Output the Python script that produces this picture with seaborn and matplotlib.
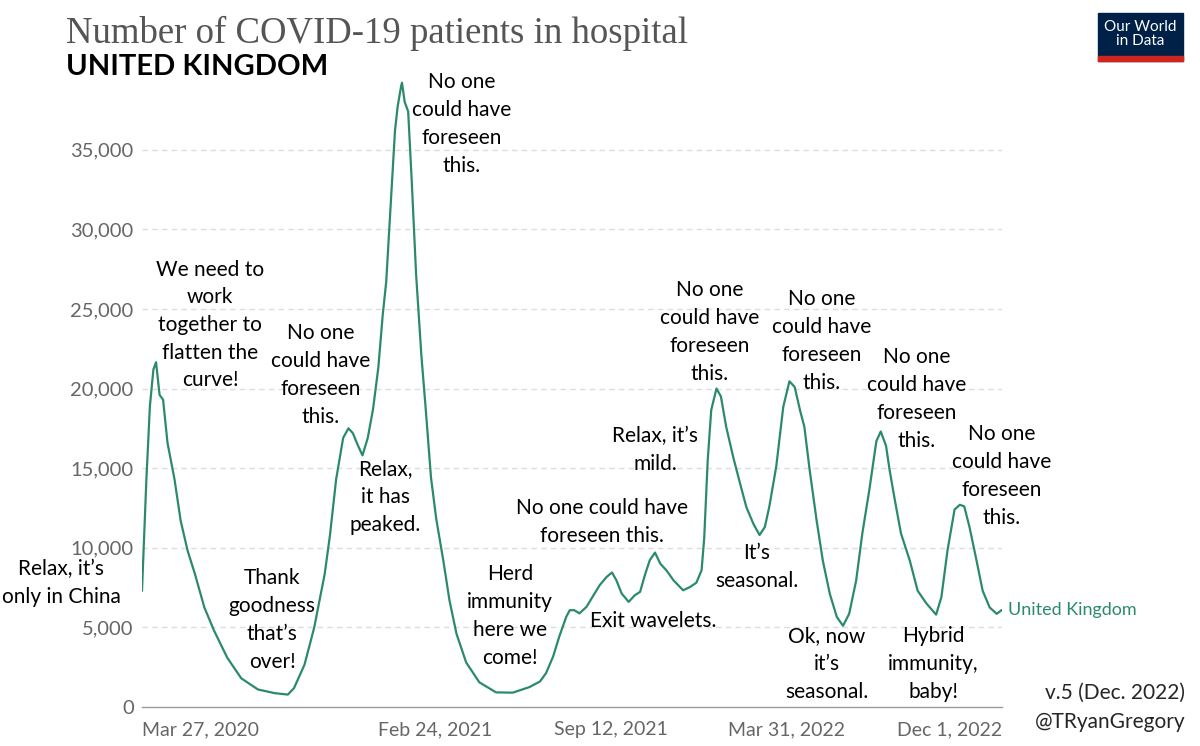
import matplotlib
matplotlib.use("Agg")
import matplotlib.pyplot as plt
from matplotlib.patches import Rectangle
import seaborn as sns
import pandas as pd

# values (UK, patients in hospital)
dates = [
    "2020-03-27", "2020-04-01", "2020-04-05", "2020-04-09", "2020-04-12", "2020-04-16",
    "2020-04-20", "2020-04-25", "2020-05-03", "2020-05-10", "2020-05-18", "2020-05-26",
    "2020-06-06", "2020-06-17", "2020-07-02", "2020-07-18", "2020-08-06", "2020-08-25",
    "2020-09-09", "2020-09-16", "2020-09-28", "2020-10-09", "2020-10-21", "2020-10-27",
    "2020-11-03", "2020-11-11", "2020-11-17", "2020-11-22", "2020-11-28", "2020-12-03",
    "2020-12-09", "2020-12-15", "2020-12-21", "2020-12-26", "2020-12-30",
    "2021-01-03", "2021-01-09", "2021-01-12", "2021-01-16", "2021-01-17", "2021-01-20",
    "2021-01-24", "2021-01-28", "2021-02-02", "2021-02-08", "2021-02-13", "2021-02-19",
    "2021-02-25", "2021-03-05", "2021-03-12", "2021-03-20", "2021-03-31", "2021-04-15",
    "2021-05-04", "2021-05-23", "2021-06-11", "2021-06-23", "2021-06-30", "2021-07-08",
    "2021-07-15", "2021-07-23", "2021-07-27", "2021-08-01", "2021-08-07", "2021-08-15",
    "2021-08-22", "2021-08-30", "2021-09-07", "2021-09-13", "2021-09-18", "2021-09-24",
    "2021-10-02", "2021-10-09", "2021-10-15", "2021-10-21", "2021-10-26", "2021-11-01",
    "2021-11-07", "2021-11-14", "2021-11-22", "2021-12-03", "2021-12-11", "2021-12-18",
    "2021-12-24", "2021-12-27", "2021-12-31",
    "2022-01-04", "2022-01-10", "2022-01-15", "2022-01-21", "2022-01-29", "2022-02-06",
    "2022-02-13", "2022-02-21", "2022-02-28", "2022-03-06", "2022-03-11", "2022-03-19",
    "2022-03-27", "2022-04-03", "2022-04-09", "2022-04-15", "2022-04-20", "2022-04-26",
    "2022-05-04", "2022-05-11", "2022-05-19", "2022-05-27", "2022-06-03", "2022-06-10",
    "2022-06-18", "2022-06-25", "2022-07-03", "2022-07-11", "2022-07-16", "2022-07-22",
    "2022-07-26", "2022-08-01", "2022-08-08", "2022-08-18", "2022-08-27", "2022-09-06",
    "2022-09-17", "2022-09-23", "2022-09-30", "2022-10-08", "2022-10-14", "2022-10-19",
    "2022-10-25", "2022-11-02", "2022-11-09", "2022-11-17", "2022-11-25", "2022-12-01",
]
patients = [
    7300, 14300, 18900, 21200, 21650, 19600,
    19300, 16600, 14300, 11700, 9800, 8400,
    6250, 4800, 3100, 1800, 1100, 870,
    780, 1180, 2660, 4980, 8360, 10800,
    14300, 16900, 17500, 17200, 16400, 15800,
    16900, 18700, 21300, 24600, 26700,
    30500, 36200, 37700, 39000, 39200, 38000,
    37400, 33100, 27200, 22100, 18700, 14400,
    11800, 9200, 6700, 4600, 2800, 1550,
    920, 900, 1250, 1600, 2130, 3170,
    4420, 5670, 6080, 6080, 5880, 6290,
    6920, 7650, 8170, 8450, 7960, 7130,
    6600, 7020, 7230, 8380, 9210, 9700,
    9000, 8580, 7960, 7330, 7540, 7800,
    8580, 10600, 15500,
    18650, 20000, 19500, 17600, 15700, 14000,
    12550, 11500, 10800, 11300, 12550, 15100,
    18850, 20450, 20100, 18650, 17600, 14900,
    11700, 9200, 7100, 5650, 5100, 5850,
    7950, 10900, 13650, 16700, 17300, 16400,
    14900, 13000, 10900, 9200, 7300, 6500,
    5800, 6900, 9850, 12400, 12700, 12600,
    11300, 9200, 7300, 6250, 5850, 6100,
]

tick_dates = ["2020-03-27", "2021-02-24", "2021-09-12", "2022-03-31", "2022-12-01"]
tick_labels = ["Mar 27, 2020", "Feb 24, 2021", "Sep 12, 2021", "Mar 31, 2022", "Dec 1, 2022"]
y_ticks = [0, 5000, 10000, 15000, 20000, 25000, 30000, 35000]

NOONE = "No one\ncould have\nforeseen\nthis."
# annotation text and its centre in pixels
notes = [
    ("Relax, it\u2019s\nonly in China", 61, 583),
    ("We need to\nwork\ntogether to\nflatten the\ncurve!", 210, 325),
    ("Thank\ngoodness\nthat\u2019s\nover!", 272, 620),
    (NOONE, 321, 375),
    ("Relax,\nit has\npeaked.", 385, 497),
    (NOONE, 462, 124),
    ("Herd\nimmunity\nhere we\ncome!", 510, 616),
    ("No one could have\nforeseen this.", 602, 522),
    ("Exit wavelets.", 653, 621),
    ("Relax, it\u2019s\nmild.", 655, 450),
    (NOONE, 710, 332),
    ("It\u2019s\nseasonal.", 757, 567),
    (NOONE, 822, 341),
    ("Ok, now\nit\u2019s\nseasonal.", 827, 664),
    (NOONE, 917, 399),
    ("Hybrid\nimmunity,\nbaby!", 933, 664),
    (NOONE, 1002, 476),
]

W, H = 1200, 746
green = "#2b8a6b"
grey = "#666666"

sns.set_style("white")
plt.rcParams['font.family'] = ['Lato', 'DejaVu Sans']

df = pd.DataFrame({"date": pd.to_datetime(dates), "patients": patients})

fig = plt.figure(figsize=(12, 7.46), dpi=100)
ax = fig.add_axes([142 / W, 1 - 707 / H, 860 / W, (707 - 78) / H])

sns.lineplot(data=df, x="date", y="patients", color=green, linewidth=1.6, ax=ax)

ax.set_xlim(pd.Timestamp(tick_dates[0]), pd.Timestamp(tick_dates[-1]))
ax.set_ylim(0, 39500)
ax.set_xlabel("")
ax.set_ylabel("")

for v in y_ticks[1:]:
    ax.axhline(v, color="#dddddd", lw=1, ls=(0, (4, 3)), zorder=0)

ax.set_yticks(y_ticks)
ax.set_yticklabels([f"{v:,}" for v in y_ticks], color=grey, fontsize=14.5)
ax.tick_params(axis="y", length=0, pad=6)

ax.set_xticks(pd.to_datetime(tick_dates))
ax.set_xticklabels(tick_labels, color=grey, fontsize=14)
ax.tick_params(axis="x", length=5, width=1, color="#999999", pad=5, direction="out")
xl = ax.get_xticklabels()
xl[0].set_ha("left")
xl[-1].set_ha("right")

for s in ["top", "right", "left"]:
    ax.spines[s].set_visible(False)
ax.spines["bottom"].set_color("#999999")
ax.spines["bottom"].set_linewidth(1)

ax.text(1.007, df["patients"].iloc[-1], "United Kingdom", color=green, fontsize=13,
        va="center", ha="left", transform=ax.get_yaxis_transform())

for txt, px, py in notes:
    fig.text(px / W, 1 - py / H, txt, ha="center", va="center", multialignment="center",
             fontsize=15, linespacing=1.48, color="black")

fig.text(66 / W, 1 - 33 / H, "Number of COVID-19 patients in hospital",
         family="Liberation Serif", fontsize=26.5, color="#555555", va="center", ha="left")
fig.text(66 / W, 1 - 67 / H, "UNITED KINGDOM", fontsize=21, fontweight="bold",
         color="black", va="center", ha="left")

# OWID logo
fig.patches.append(Rectangle((1098 / W, 1 - 61 / H), 85 / W, 48 / H, transform=fig.transFigure,
                             color="#002147"))
fig.patches.append(Rectangle((1098 / W, 1 - 61 / H), 85 / W, 5 / H, transform=fig.transFigure,
                             color="#ce261e"))
fig.text(1140 / W, 1 - 34 / H, "Our World\nin Data", color="white", fontsize=11,
         ha="center", va="center", linespacing=1.05)

fig.text(1185 / W, 1 - 693 / H, "v.5 (Dec. 2022)", fontsize=15, ha="right", va="center")
fig.text(1185 / W, 1 - 722 / H, "@TRyanGregory", fontsize=15, ha="right", va="center")

fig.savefig("out.png", dpi=100)
